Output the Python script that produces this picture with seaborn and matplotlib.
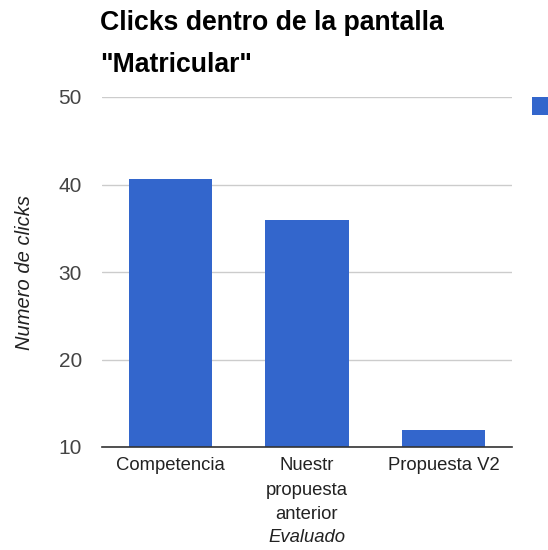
import matplotlib
matplotlib.use("Agg")
import matplotlib.pyplot as plt
import seaborn as sns
import pandas as pd
from matplotlib.patches import Rectangle

# Data
categories = ["Competencia", "Nuestr\npropuesta\nanterior", "Propuesta V2"]
clicks = [40.6, 36.0, 11.9]
y_ticks = [10, 20, 30, 40, 50]

BAR_COLOR = "#3366cc"
FONT = ["Liberation Sans", "DejaVu Sans"]

sns.set_theme(style="white")
plt.rcParams["font.family"] = FONT

df = pd.DataFrame({"Evaluado": categories, "clicks": clicks})

fig = plt.figure(figsize=(5.48, 5.5), dpi=100)
W, H = 548, 550
ax = fig.add_axes([102 / W, 1 - 447 / H, (512 - 102) / W, (447 - 97) / H])

sns.barplot(data=df, x="Evaluado", y="clicks", color=BAR_COLOR, saturation=1,
            width=0.61, ax=ax, linewidth=0, zorder=3)

ax.set_ylim(10, 50)
ax.set_yticks(y_ticks)
ax.set_yticklabels([str(t) for t in y_ticks])
ax.set_xlim(-0.5, 2.5)

ax.grid(axis="y", color="#cccccc", linewidth=1.0, zorder=0)
ax.grid(axis="x", visible=False)
for side in ["left", "right", "top"]:
    ax.spines[side].set_visible(False)
ax.spines["bottom"].set_color("#333333")
ax.spines["bottom"].set_linewidth(1.2)
ax.spines["bottom"].set_zorder(4)

ax.tick_params(axis="x", length=0, colors="#222222", labelsize=13.3, pad=7)
ax.tick_params(axis="y", length=0, colors="#444444", labelsize=15, pad=14.4)
for lbl in ax.get_xticklabels():
    lbl.set_linespacing(1.6)

ax.set_xlabel("Evaluado", fontstyle="italic", fontsize=13.3, color="#222222", labelpad=4)
ax.set_ylabel("Numero de clicks", fontstyle="italic", fontsize=14.5, color="#222222", labelpad=18)

fig.text(100 / W, 1 - 10 / H, "Clicks dentro de la pantalla\n\"Matricular\"",
         ha="left", va="top", fontsize=19.2, fontweight="bold", color="#000000",
         linespacing=1.8)

# Legend swatch at the right edge
fig.patches.append(Rectangle((532 / W, 1 - 115 / H), 18 / W, 18 / H,
                             transform=fig.transFigure, facecolor=BAR_COLOR,
                             edgecolor="none", figure=fig))

fig.savefig("out.png", dpi=100)
